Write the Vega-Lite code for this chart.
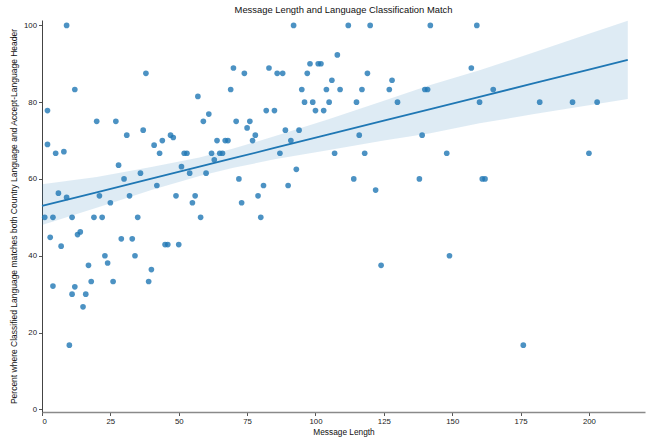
{
  "$schema": "https://vega.github.io/schema/vega-lite/v6.json",
  "width": 603,
  "height": 392,
  "autosize": {"type": "none"},
  "padding": {"left": 42, "top": 20, "right": 4, "bottom": 26},
  "background": "white",
  "title": {"text": "Message Length and Language Classification Match", "font": "Liberation Sans", "fontSize": 9.4, "fontWeight": "normal", "color": "#111111", "anchor": "middle", "offset": 5},
  "config": {
    "view": {"stroke": null},
    "axis": {"grid": false, "labelFont": "Liberation Sans", "titleFont": "Liberation Sans", "labelColor": "#222222", "titleColor": "#111111", "titleFontWeight": "normal", "domainColor": "#555555", "tickColor": "#555555", "tickSize": 3.5, "labelFontSize": 7.8, "titleFontSize": 8.3}
  },
  "datasets": {
    "points": [
      {"len": 1, "pct": 50}, {"len": 2, "pct": 77.8}, {"len": 2, "pct": 69}, {"len": 3, "pct": 44.8}, {"len": 4, "pct": 50}, {"len": 4, "pct": 32.1},
      {"len": 5, "pct": 66.7}, {"len": 6, "pct": 56.3}, {"len": 7, "pct": 42.5}, {"len": 8, "pct": 67.1}, {"len": 9, "pct": 100}, {"len": 9, "pct": 55.2},
      {"len": 10, "pct": 16.7}, {"len": 11, "pct": 50}, {"len": 11, "pct": 30}, {"len": 12, "pct": 83.3}, {"len": 12, "pct": 31.9}, {"len": 13, "pct": 45.5},
      {"len": 14, "pct": 46.2}, {"len": 15, "pct": 26.7}, {"len": 16, "pct": 30}, {"len": 17, "pct": 37.5}, {"len": 18, "pct": 33.3}, {"len": 19, "pct": 50},
      {"len": 20, "pct": 75}, {"len": 21, "pct": 55.6}, {"len": 22, "pct": 50}, {"len": 23, "pct": 40}, {"len": 24, "pct": 38.1}, {"len": 25, "pct": 53.8},
      {"len": 26, "pct": 33.3}, {"len": 27, "pct": 75}, {"len": 28, "pct": 63.6}, {"len": 29, "pct": 44.4}, {"len": 30, "pct": 60}, {"len": 31, "pct": 71.4},
      {"len": 32, "pct": 55.6}, {"len": 33, "pct": 44.4}, {"len": 34, "pct": 40}, {"len": 35, "pct": 50}, {"len": 36, "pct": 61.5}, {"len": 37, "pct": 72.7},
      {"len": 38, "pct": 87.5}, {"len": 39, "pct": 33.3}, {"len": 40, "pct": 36.4}, {"len": 41, "pct": 68.8}, {"len": 42, "pct": 58.3}, {"len": 43, "pct": 66.7},
      {"len": 44, "pct": 70}, {"len": 45, "pct": 42.9}, {"len": 46, "pct": 42.9}, {"len": 47, "pct": 71.4}, {"len": 48, "pct": 70.8}, {"len": 49, "pct": 55.6},
      {"len": 50, "pct": 42.9}, {"len": 51, "pct": 63.2}, {"len": 52, "pct": 66.7}, {"len": 53, "pct": 66.7}, {"len": 54, "pct": 61.5}, {"len": 55, "pct": 53.8},
      {"len": 56, "pct": 55.6}, {"len": 57, "pct": 81.5}, {"len": 58, "pct": 50}, {"len": 59, "pct": 75}, {"len": 60, "pct": 61.5}, {"len": 61, "pct": 76.9},
      {"len": 62, "pct": 66.7}, {"len": 63, "pct": 65}, {"len": 64, "pct": 70}, {"len": 65, "pct": 66.7}, {"len": 66, "pct": 66.7}, {"len": 67, "pct": 70},
      {"len": 68, "pct": 70}, {"len": 69, "pct": 83.3}, {"len": 70, "pct": 88.9}, {"len": 71, "pct": 75}, {"len": 72, "pct": 60}, {"len": 73, "pct": 53.8},
      {"len": 74, "pct": 87.5}, {"len": 75, "pct": 73.3}, {"len": 76, "pct": 75}, {"len": 77, "pct": 70}, {"len": 78, "pct": 71.4}, {"len": 79, "pct": 55.6},
      {"len": 80, "pct": 50}, {"len": 81, "pct": 58.3}, {"len": 82, "pct": 77.8}, {"len": 83, "pct": 88.9}, {"len": 85, "pct": 77.8}, {"len": 86, "pct": 87.5},
      {"len": 87, "pct": 66.7}, {"len": 88, "pct": 87.5}, {"len": 89, "pct": 72.7}, {"len": 90, "pct": 58.3}, {"len": 91, "pct": 70}, {"len": 92, "pct": 100},
      {"len": 93, "pct": 62.5}, {"len": 94, "pct": 72.7}, {"len": 95, "pct": 83.3}, {"len": 96, "pct": 80}, {"len": 97, "pct": 87.5}, {"len": 98, "pct": 90},
      {"len": 99, "pct": 80}, {"len": 100, "pct": 77.8}, {"len": 101, "pct": 90}, {"len": 102, "pct": 90}, {"len": 103, "pct": 77.8}, {"len": 104, "pct": 83.3},
      {"len": 105, "pct": 80}, {"len": 106, "pct": 85.7}, {"len": 107, "pct": 66.7}, {"len": 108, "pct": 92.3}, {"len": 109, "pct": 83.3}, {"len": 112, "pct": 100},
      {"len": 114, "pct": 60}, {"len": 115, "pct": 80}, {"len": 116, "pct": 71.4}, {"len": 117, "pct": 83.3}, {"len": 118, "pct": 66.7}, {"len": 119, "pct": 87.5},
      {"len": 120, "pct": 100}, {"len": 122, "pct": 57.1}, {"len": 124, "pct": 37.5}, {"len": 127, "pct": 83.3}, {"len": 128, "pct": 85.7}, {"len": 130, "pct": 80},
      {"len": 138, "pct": 60}, {"len": 139, "pct": 71.4}, {"len": 140, "pct": 83.3}, {"len": 141, "pct": 83.3}, {"len": 142, "pct": 100}, {"len": 148, "pct": 66.7},
      {"len": 149, "pct": 40}, {"len": 157, "pct": 88.9}, {"len": 159, "pct": 100}, {"len": 160, "pct": 80}, {"len": 161, "pct": 60}, {"len": 162, "pct": 60},
      {"len": 165, "pct": 83.3}, {"len": 176, "pct": 16.7}, {"len": 182, "pct": 80}, {"len": 194, "pct": 80}, {"len": 200, "pct": 66.7}, {"len": 203, "pct": 80}
    ],
    "fit": [
      {"x": 0, "yhat": 52.97, "lo": 48.0, "hi": 58.6},
      {"x": 20, "yhat": 56.52, "lo": 52.5, "hi": 60.5},
      {"x": 40, "yhat": 60.07, "lo": 57.1, "hi": 63.1},
      {"x": 57.6, "yhat": 63.2, "lo": 60.8, "hi": 65.6},
      {"x": 70, "yhat": 65.4, "lo": 62.9, "hi": 67.9},
      {"x": 85, "yhat": 68.07, "lo": 65.1, "hi": 71.1},
      {"x": 104.5, "yhat": 71.53, "lo": 67.5, "hi": 75.5},
      {"x": 125, "yhat": 75.17, "lo": 70.0, "hi": 80.4},
      {"x": 142, "yhat": 78.19, "lo": 71.9, "hi": 84.5},
      {"x": 160, "yhat": 81.39, "lo": 74.5, "hi": 88.3},
      {"x": 180, "yhat": 84.94, "lo": 76.9, "hi": 93.0},
      {"x": 200, "yhat": 88.49, "lo": 79.2, "hi": 97.8},
      {"x": 214.2, "yhat": 91.01, "lo": 80.85, "hi": 101.2}
    ]
  },
  "layer": [
    {
      "data": {"name": "points"},
      "mark": {"type": "circle", "size": 32, "color": "#1f77b4", "opacity": 0.8},
      "encoding": {
        "x": {"field": "len", "type": "quantitative", "scale": {"domain": [0, 220.5], "nice": false, "zero": false},
              "axis": {"values": [0, 25, 50, 75, 100, 125, 150, 175, 200], "title": "Message Length", "labelPadding": 2, "titlePadding": 2, "domainColor": "#8a8a8a", "domainWidth": 1.5}},
        "y": {"field": "pct", "type": "quantitative", "scale": {"domain": [-0.7, 101.4], "nice": false, "zero": false},
              "axis": {"values": [0, 20, 40, 60, 80, 100], "title": "Percent where Classified Language matches both Country Language and Accept-Language Header", "titleFontSize": 8.5, "labelPadding": 2, "titlePadding": 5, "domainColor": "#444444"}}
      }
    },
    {
      "data": {"name": "fit"},
      "mark": {"type": "area", "color": "#1f77b4", "opacity": 0.15},
      "encoding": {
        "x": {"field": "x", "type": "quantitative"},
        "y": {"field": "lo", "type": "quantitative"},
        "y2": {"field": "hi"}
      }
    },
    {
      "data": {"name": "fit"},
      "mark": {"type": "line", "color": "#1f77b4", "strokeWidth": 1.8},
      "encoding": {
        "x": {"field": "x", "type": "quantitative"},
        "y": {"field": "yhat", "type": "quantitative"}
      }
    }
  ]
}
